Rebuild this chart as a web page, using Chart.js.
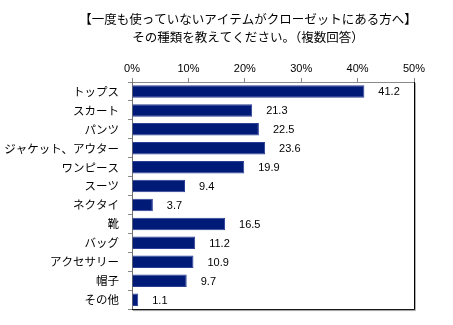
<!DOCTYPE html>
<html>
<head>
<meta charset="utf-8">
<script src="https://cdn.jsdelivr.net/npm/chart.js@4/dist/chart.umd.min.js"></script>
<style>
  html, body { margin: 0; padding: 0; background: #fff; }
  #wrap { width: 453px; height: 325px; position: relative; }
</style>
</head>
<body>
<div id="wrap"><canvas id="bar-chart"></canvas></div>
<script>
const TITLE_LINES = [
  '【一度も使っていないアイテムがクローゼットにある方へ】',
  'その種類を教えてください。（複数回答）'
];
const CATEGORIES = [
  'トップス', 'スカート', 'パンツ', 'ジャケット、アウター', 'ワンピース', 'スーツ',
  'ネクタイ', '靴', 'バッグ', 'アクセサリー', '帽子', 'その他'
];
const VALUES = [41.2, 21.3, 22.5, 23.6, 19.9, 9.4, 3.7, 16.5, 11.2, 10.9, 9.7, 1.1];
const X_TICKS = [0, 10, 20, 30, 40, 50];

const JP_FONT = '"Noto Sans CJK JP", sans-serif';
const NUM_FONT = '"Liberation Sans", Arial, sans-serif';

// two-line heading above the plot
const titlePlugin = {
  id: 'twoLineTitle',
  afterDraw: (chart) => {
    const ctx = chart.ctx;
    ctx.save();
    ctx.fillStyle = '#000';
    ctx.font = `12.5px ${JP_FONT}`;
    ctx.textAlign = 'center';
    ctx.textBaseline = 'middle';
    ctx.fillText(TITLE_LINES[0], 248, 19);
    ctx.fillText(TITLE_LINES[1], 248, 37);
    ctx.restore();
  }
};

// value text to the right of each bar
const valueLabels = {
  id: 'valueLabels',
  afterDatasetsDraw: (chart) => {
    const ctx = chart.ctx;
    const meta = chart.getDatasetMeta(0);
    ctx.save();
    ctx.fillStyle = '#000';
    ctx.font = `11px ${NUM_FONT}`;
    ctx.textAlign = 'left';
    ctx.textBaseline = 'middle';
    meta.data.forEach((bar, i) => {
      ctx.fillText(VALUES[i].toFixed(1), bar.x + 14, bar.y + 1);
    });
    ctx.restore();
  }
};

// dark right/bottom frame with a soft shadow
const plotFrame = {
  id: 'plotFrame',
  afterDraw: (chart) => {
    const { left, right, top, bottom } = chart.chartArea;
    const ctx = chart.ctx;
    ctx.save();
    ctx.strokeStyle = '#b0b0b0';
    ctx.lineWidth = 1;
    ctx.beginPath();
    ctx.moveTo(right + 1.5, top + 1);
    ctx.lineTo(right + 1.5, bottom + 1.5);
    ctx.lineTo(left + 1, bottom + 1.5);
    ctx.stroke();
    ctx.strokeStyle = '#000';
    ctx.beginPath();
    ctx.moveTo(right + 0.5, top);
    ctx.lineTo(right + 0.5, bottom + 0.5);
    ctx.lineTo(left, bottom + 0.5);
    ctx.stroke();
    ctx.restore();
  }
};

const chart = new Chart(document.getElementById('bar-chart'), {
  type: 'bar',
  data: {
    labels: CATEGORIES,
    datasets: [{
      data: VALUES,
      backgroundColor: '#001a78',
      borderColor: '#2b3f96',
      borderWidth: 1,
      barPercentage: 0.66,
      categoryPercentage: 1
    }]
  },
  options: {
    indexAxis: 'y',
    responsive: true,
    maintainAspectRatio: false,
    animation: false,
    events: [],
    layout: { padding: { top: 0, left: 0, right: 39, bottom: 12 } },
    plugins: {
      legend: { display: false },
      title: { display: false },
      tooltip: { enabled: false }
    },
    scales: {
      x: {
        position: 'top',
        min: 0,
        max: 50,
        afterBuildTicks: (scale) => {
          scale.ticks = X_TICKS.map(v => ({ value: v }));
        },
        afterFit: (scale) => { scale.height = 82; },
        grid: { drawOnChartArea: false, tickLength: 4, color: '#8a8a8a' },
        border: { color: '#8a8a8a' },
        ticks: {
          color: '#000',
          padding: 2,
          maxRotation: 0,
          font: { family: NUM_FONT, size: 11 },
          callback: (v) => v + '%'
        }
      },
      y: {
        afterFit: (scale) => { scale.width = 132; },
        grid: { offset: true, drawOnChartArea: false, tickLength: 4, color: '#8a8a8a' },
        border: { color: '#707070' },
        ticks: {
          color: '#000',
          padding: 9,
          font: { family: JP_FONT, size: 11.5 }
        }
      }
    }
  },
  plugins: [titlePlugin, valueLabels, plotFrame]
});
</script>
</body>
</html>
